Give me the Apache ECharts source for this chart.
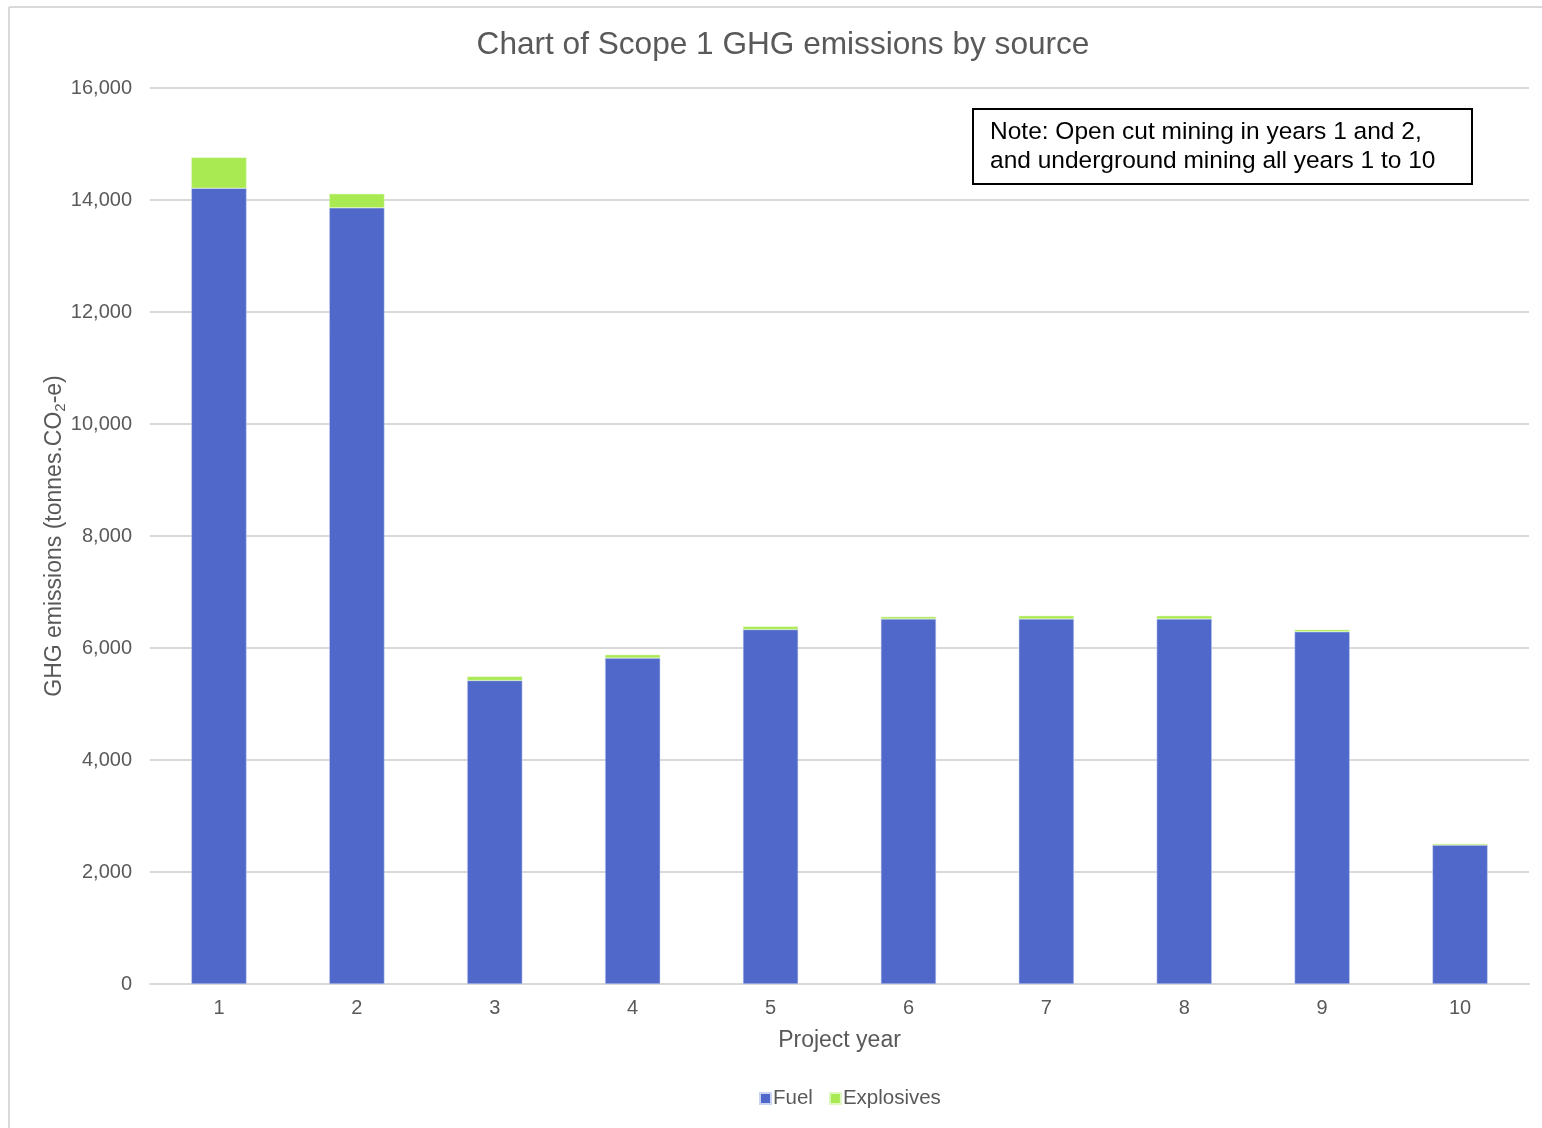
<!DOCTYPE html>
<html>
<head>
<meta charset="utf-8">
<script src="https://cdn.jsdelivr.net/npm/echarts@6/dist/echarts.min.js"></script>
<style>
html,body{margin:0;padding:0;background:#fff;}
#chart{width:1542px;height:1128px;}
</style>
</head>
<body>
<div id="chart"></div>
<script>
var categories = ['1','2','3','4','5','6','7','8','9','10'];
var fuel = [14210, 13860, 5420, 5820, 6330, 6520, 6520, 6520, 6290, 2480];
var explosives = [550, 250, 70, 60, 55, 40, 55, 55, 35, 25];
var yTicks = [0, 2000, 4000, 6000, 8000, 10000, 12000, 14000, 16000];

var FONT = '"Liberation Sans", Arial, sans-serif';
var chart = echarts.init(document.getElementById('chart'));
chart.setOption({
  backgroundColor: '#ffffff',
  animation: false,
  textStyle: { fontFamily: FONT },
  title: {
    text: 'Chart of Scope 1 GHG emissions by source',
    left: 778, textAlign: 'center', top: 24,
    textStyle: { fontFamily: FONT, fontSize: 31.6, fontWeight: 'normal', color: '#595959' }
  },
  legend: {
    top: 1083, left: 754,
    icon: 'rect', itemWidth: 11, itemHeight: 11, itemGap: 16,
    textStyle: { fontFamily: FONT, fontSize: 20.5, color: '#595959', padding: [0,0,0,-3] },
    data: ['Fuel', 'Explosives']
  },
  grid: { left: 150, right: 13, top: 88, bottom: 144, containLabel: false },
  xAxis: {
    type: 'category', data: categories,
    name: 'Project year', nameLocation: 'middle', nameGap: 45,
    nameMoveOverlap: false,
    nameTextStyle: { fontFamily: FONT, fontSize: 23, color: '#595959' },
    axisLine: { lineStyle: { color: '#d9d9d9', width: 2 } },
    axisTick: { show: false },
    axisLabel: { fontFamily: FONT, fontSize: 20, color: '#595959', margin: 14 }
  },
  yAxis: {
    type: 'value', min: yTicks[0], max: yTicks[yTicks.length-1], interval: 2000,
    name: '{a|GHG emissions (tonnes.CO}{s|2}{a|-e)}',
    nameLocation: 'middle', nameGap: 82,
    nameMoveOverlap: false,
    nameTextStyle: {
      rich: {
        a: { fontFamily: FONT, fontSize: 23, color: '#595959' },
        s: { fontFamily: FONT, fontSize: 15, color: '#595959', padding: [11,0,0,0] }
      }
    },
    axisLine: { show: false },
    axisTick: { show: false },
    axisLabel: {
      fontFamily: FONT, fontSize: 20, color: '#595959', margin: 18,
      formatter: function (v) { return v.toLocaleString('en-US'); }
    },
    splitLine: { lineStyle: { color: '#d9d9d9', width: 2 } }
  },
  series: [
    {
      name: 'Fuel', type: 'bar', stack: 'total', data: fuel, barWidth: '40%',
      itemStyle: { color: '#4F68C9', borderColor: '#c9d3f2', borderWidth: 0.5 }
    },
    {
      name: 'Explosives', type: 'bar', stack: 'total', data: explosives, barWidth: '40%',
      itemStyle: { color: '#A9EA52', borderColor: '#dff7c0', borderWidth: 0.5 }
    }
  ],
  graphic: [
    { type: 'line', shape: { x1: 9, y1: 7, x2: 1542, y2: 7 }, style: { stroke: '#d9d9d9', lineWidth: 2 } },
    { type: 'line', shape: { x1: 9, y1: 7, x2: 9, y2: 1128 }, style: { stroke: '#d9d9d9', lineWidth: 2 } },
    {
      type: 'group', left: 972, top: 108,
      children: [
        { type: 'rect', shape: { x: 0, y: 0, width: 499, height: 75 }, style: { fill: '#fff', stroke: '#000', lineWidth: 2 } },
        { type: 'text', x: 17, y: 9, style: {
            text: 'Note: Open cut mining in years 1 and 2,\nand underground mining all years 1 to 10',
            fontFamily: FONT, fontSize: 24.5, lineHeight: 29, fill: '#000'
        } }
      ]
    }
  ]
});
</script>
</body>
</html>
